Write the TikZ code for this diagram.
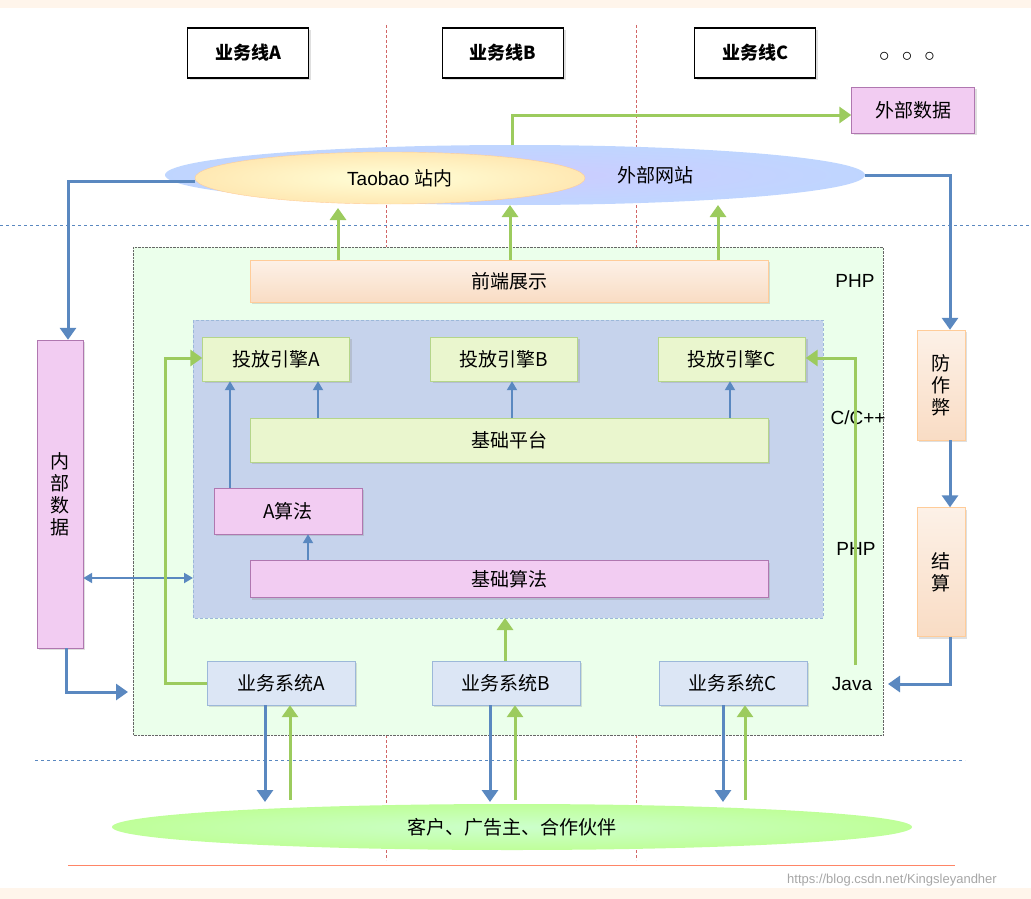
\documentclass[tikz,border=0pt]{standalone}
\usepackage{fontspec}
\setmainfont{Liberation Sans}
\newfontfamily\cjk{Noto Sans CJK SC}
\usetikzlibrary{arrows.meta,shapes.geometric,shadows}
\definecolor{garr}{HTML}{9CCB5E}
\definecolor{barr}{HTML}{5A88C0}
\definecolor{gbox}{HTML}{EAF6CE}
\definecolor{gline}{HTML}{B5D58A}
\definecolor{pbox}{HTML}{F2CCF2}
\definecolor{pline}{HTML}{B077B0}
\definecolor{bbox}{HTML}{DCE6F5}
\definecolor{obox}{HTML}{F9DCC4}
\definecolor{inner}{HTML}{C6D3EC}
\begin{document}
\begin{tikzpicture}[x=1pt,y=-1pt,
  every node/.style={font=\cjk\fontsize{19}{22}\selectfont},
  box/.style={draw, minimum height=44pt, inner sep=0pt, drop shadow={opacity=0.25,shadow xshift=2pt,shadow yshift=-2pt}},
  gb/.style={box, fill=gbox, draw=gline},
  pb/.style={box, fill=pbox, draw=pline},
  bb/.style={box, fill=bbox, draw=barr!60},
  ob/.style={box, draw=orange!40, top color=obox!40, bottom color=obox},
  hb/.style={box, fill=white, draw=black, line width=1.2pt, minimum width=121pt, minimum height=50pt, font=\cjk\bfseries\fontsize{18}{20}\selectfont},
  ga/.style={draw=garr, line width=3pt, -{Stealth[length=12pt,width=16pt,inset=0pt]}},
  ba/.style={draw=barr, line width=3pt, -{Stealth[length=12pt,width=16pt,inset=0pt]}},
  tb/.style={draw=barr, line width=2pt, -{Stealth[length=9pt,width=10pt,inset=0pt]}},
  lbl/.style={font=\fontsize{19}{22}\selectfont}]
\useasboundingbox (0,0) rectangle (1031,899);
\fill[orange!8] (0,0) rectangle (1031,8);
\fill[orange!8] (0,888) rectangle (1031,899);
% dashed lines
\draw[red!70!black!60, densely dashed] (386,25) -- (386,860) (636,25) -- (636,860);
\draw[barr, dashed] (0,225) -- (1031,225);
\draw[barr, dashed] (35,760) -- (965,760);
\draw[red!60!orange!60, line width=1pt] (68,865) -- (955,865);
% headers
\node[hb] (la) at (248,53) {业务线A};
\node[hb] (lb) at (503,53) {业务线B};
\node[hb] (lc) at (755,53) {业务线C};
\node[lbl, font=\bfseries\fontsize{22}{22}\selectfont] (dots) at (907,57) {$\circ$\ \ $\circ$\ \ $\circ$};
% ellipses
\node[ellipse, minimum width=700pt, minimum height=60pt, inner color=blue!20, outer color=cyan!35!blue!25] (web) at (515,175) {};
\node[ellipse, minimum width=390pt, minimum height=52pt, inner color=yellow!15, outer color=yellow!40!orange!30, draw=orange!40] (tb) at (390,178) {};
\node[lbl] at (400,178) {Taobao {\cjk 站内}};
\node (wz) at (655,175) {外部网站};
\node[pb, minimum width=123pt, minimum height=46pt] (ext) at (913,110) {外部数据};
% outer box
\draw[black!60, densely dotted, fill=green!8] (133,247) rectangle (883,735);
\node[ob, minimum width=518pt, minimum height=42pt] (fe) at (509,281) {前端展示};
\node[lbl] (php1) at (855,281) {PHP};
\draw[barr!60, densely dashed, fill=inner] (193,320) rectangle (823,618);
\coordinate (innerw) at (193,578);
\node[gb, minimum width=147pt] (ea) at (276,359) {投放引擎A};
\node[gb, minimum width=147pt] (eb) at (504,359) {投放引擎B};
\node[gb, minimum width=147pt] (ec) at (732,359) {投放引擎C};
\node[gb, minimum width=518pt] (bp) at (509,440) {基础平台};
\node[pb, minimum width=148pt, minimum height=46pt] (aa) at (288,511) {A算法};
\node[pb, minimum width=518pt, minimum height=37pt] (ba) at (509,579) {基础算法};
\node[lbl] at (858,418) {C/C++};
\node[lbl] at (856,549) {PHP};
\node[lbl] at (852,684) {Java};
\node[bb, minimum width=148pt] (sa) at (281,683) {业务系统A};
\node[bb, minimum width=148pt] (sb) at (506,683) {业务系统B};
\node[bb, minimum width=148pt] (sc) at (733,683) {业务系统C};
% side boxes
\node[pb, minimum width=46pt, minimum height=308pt, align=center] (in) at (60,494) {内\\部\\数\\据};
\node[ob, minimum width=48pt, minimum height=110pt, align=center] (af) at (941,385) {防\\作\\弊};
\node[ob, minimum width=48pt, minimum height=129pt, align=center] (js) at (941,572) {结\\算};
% bottom ellipse
\node[ellipse, minimum width=800pt, minimum height=46pt, inner color=green!20!white, outer color=green!50!lime!40] (cu) at (512,827) {客户、广告主、合作伙伴};
% thin blue arrows
\draw[tb] (bp.north -| 318,0) -- (ea.south -| 318,0);
\draw[tb] (bp.north -| 512,0) -- (eb.south -| 512,0);
\draw[tb] (bp.north -| 730,0) -- (ec.south -| 730,0);
\draw[tb] (aa.north -| 230,0) -- (ea.south -| 230,0);
\draw[tb] (ba.north -| 308,0) -- (aa.south -| 308,0);
\draw[tb, {Stealth[length=9pt,width=10pt,inset=0pt]}-{Stealth[length=9pt,width=10pt,inset=0pt]}] (in.east |- innerw) -- (innerw);
% green arrows
\draw[ga] (512,145) -- (512,115) -- (ext.west |- 0,115);
\draw[ga] (fe.north -| 338,0) -- (338,208);
\draw[ga] (fe.north -| 510,0) -- (510,205);
\draw[ga] (fe.north -| 718,0) -- (718,205);
\draw[ga] (sa.west) -- (165,683) -- (165,358) -- (ea.west |- 0,358);
\coordinate (jv) at (855,665);
\draw[ga] (jv) -- (855,358) -- (ec.east |- 0,358);
\draw[ga] (sb.north -| 505,0) -- (505,618);
% blue arrows
\draw[ba] (tb.west |- 0,181) -- (68,181) -- (in.north -| 68,0);
\draw[ba] (web.east) -- (950,175) -- (af.north -| 950,0);
\draw[ba] (af.south -| 950,0) -- (js.north -| 950,0);
\draw[ba] (js.south -| 950,0) -- (950,684) -- (888,684);
\draw[ba] (in.south -| 66,0) -- (66,692) -- (128,692);
% system <-> customers
\foreach \s/\b/\g in {sa/265/290, sb/490/515, sc/723/745}{
  \draw[ba] (\s.south -| \b,0) -- (\b,802);
  \draw[ga] (\g,800) -- (\s.south -| \g,0);
}
\node[font=\fontsize{13}{14}\selectfont, text=gray!70] (wm) at (892,880) {https://blog.csdn.net/Kingsleyandher};
\end{tikzpicture}
\end{document}
